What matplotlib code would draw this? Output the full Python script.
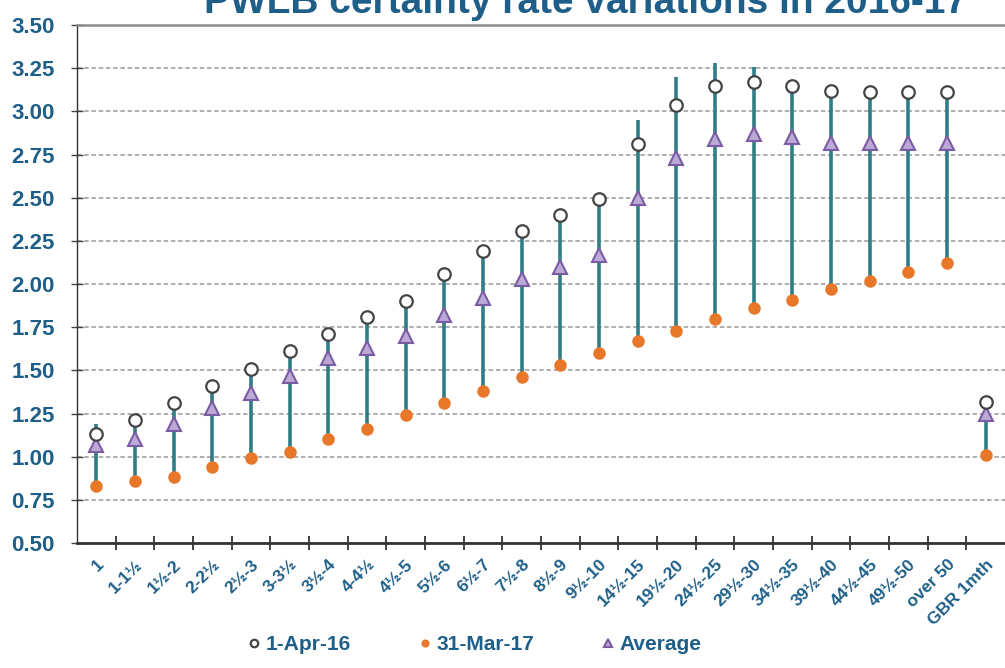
import numpy as np
import matplotlib
matplotlib.use("Agg")
import matplotlib.pyplot as plt
from matplotlib.ticker import MultipleLocator, FixedLocator

plt.rcParams['font.family'] = ['Liberation Sans', 'DejaVu Sans']

BLUE = "#1D5F88"
TEAL = "#2F7D86"
ORANGE = "#E8772A"
PURPLE = "#7A5CA3"

# ---------------------------- data -------------------------------
periods = ["1", "1-1½", "1½-2", "2-2½", "2½-3", "3-3½", "3½-4", "4-4½", "4½-5",
           "5½-6", "6½-7", "7½-8", "8½-9", "9½-10", "14½-15", "19½-20", "24½-25",
           "29½-30", "34½-35", "39½-40", "44½-45", "49½-50", "over 50", "GBR 1mth"]

apr16 = [1.13, 1.21, 1.31, 1.41, 1.51, 1.61, 1.71, 1.81, 1.90, 2.06, 2.19, 2.31,
         2.40, 2.49, 2.81, 3.04, 3.15, 3.17, 3.15, 3.12, 3.11, 3.11, 3.11, 1.32]
mar17 = [0.83, 0.86, 0.88, 0.94, 0.99, 1.03, 1.10, 1.16, 1.24, 1.31, 1.38, 1.46,
         1.53, 1.60, 1.67, 1.73, 1.80, 1.86, 1.91, 1.97, 2.02, 2.07, 2.12, 1.01]
average = [1.07, 1.10, 1.19, 1.28, 1.37, 1.47, 1.57, 1.63, 1.70, 1.82, 1.92, 2.03,
           2.10, 2.17, 2.50, 2.73, 2.84, 2.87, 2.85, 2.82, 2.82, 2.82, 2.82, 1.25]
year_high = [1.19, 1.24, 1.32, 1.42, 1.52, 1.62, 1.72, 1.82, 1.91, 2.07, 2.20, 2.32,
             2.41, 2.50, 2.95, 3.20, 3.28, 3.26, 3.18, 3.13, 3.11, 3.11, 3.11, 1.33]

# ---------------------------- plot -------------------------------
fig = plt.figure(figsize=(10.05, 6.68), dpi=100)
ax = fig.add_axes([0.0766, 0.187, 0.9234, 0.7754])

x = np.arange(len(periods))
ax.vlines(x, mar17, year_high, color=TEAL, lw=2.6, zorder=3)
ax.plot(x, mar17, 'o', ms=8, color=ORANGE, mec=ORANGE, zorder=4, label="31-Mar-17")
ax.plot(x, average, '^', ms=10, mfc="#BCA9D6", mec=PURPLE, mew=1.5, zorder=5, label="Average")
ax.plot(x, apr16, 'o', ms=9, mfc="white", mec="#444444", mew=1.6, zorder=6, label="1-Apr-16")

ax.set_xlim(-0.5, len(periods) - 0.5)
ax.set_ylim(0.5, 3.5)
ax.yaxis.set_major_locator(MultipleLocator(0.25))
ax.yaxis.set_major_formatter(matplotlib.ticker.FormatStrFormatter("%.2f"))
ax.grid(axis='y', color="#A8A8A8", ls=(0, (2.5, 1.5)), lw=1.3, zorder=1)

ax.set_xticks(x)
ax.set_xticklabels(periods, rotation=45, ha='right', rotation_mode='anchor',
                   fontsize=12.5, fontweight='bold', color=BLUE)
ax.tick_params(axis='x', which='major', length=0, pad=10)
ax.xaxis.set_minor_locator(FixedLocator(x[:-1] + 0.5))
ax.tick_params(axis='x', which='minor', length=10, width=1.3, direction='inout', color="#333333")
ax.tick_params(axis='y', labelsize=16, labelcolor=BLUE, length=8, width=1.0,
               direction='inout', color="#444444", pad=12)
for lab in ax.get_yticklabels():
    lab.set_fontweight('bold')

ax.spines['right'].set_visible(False)
ax.spines['top'].set_color("#8A8A8A")
ax.spines['top'].set_linewidth(1.8)
ax.spines['bottom'].set_linewidth(2.0)
ax.spines['bottom'].set_color("#333333")
ax.spines['left'].set_linewidth(1.0)
ax.spines['left'].set_color("#333333")

fig.text(0.583, 1 - 13 / 668, "PWLB certainty rate variations in 2016-17",
         ha='center', va='baseline', fontsize=28, fontweight='bold', color=BLUE)

h, l = ax.get_legend_handles_labels()
order = [2, 0, 1]
leg = fig.legend([h[i] for i in order], [l[i] for i in order], loc='center',
                 bbox_to_anchor=(0.473, 1 - 645 / 668), ncol=3, frameon=False,
                 fontsize=15, markerscale=0.6, handlelength=0.5, handletextpad=0.3,
                 columnspacing=3.3)
for t in leg.get_texts():
    t.set_color(BLUE)
    t.set_fontweight('bold')

fig.savefig("out.png", dpi=100)
